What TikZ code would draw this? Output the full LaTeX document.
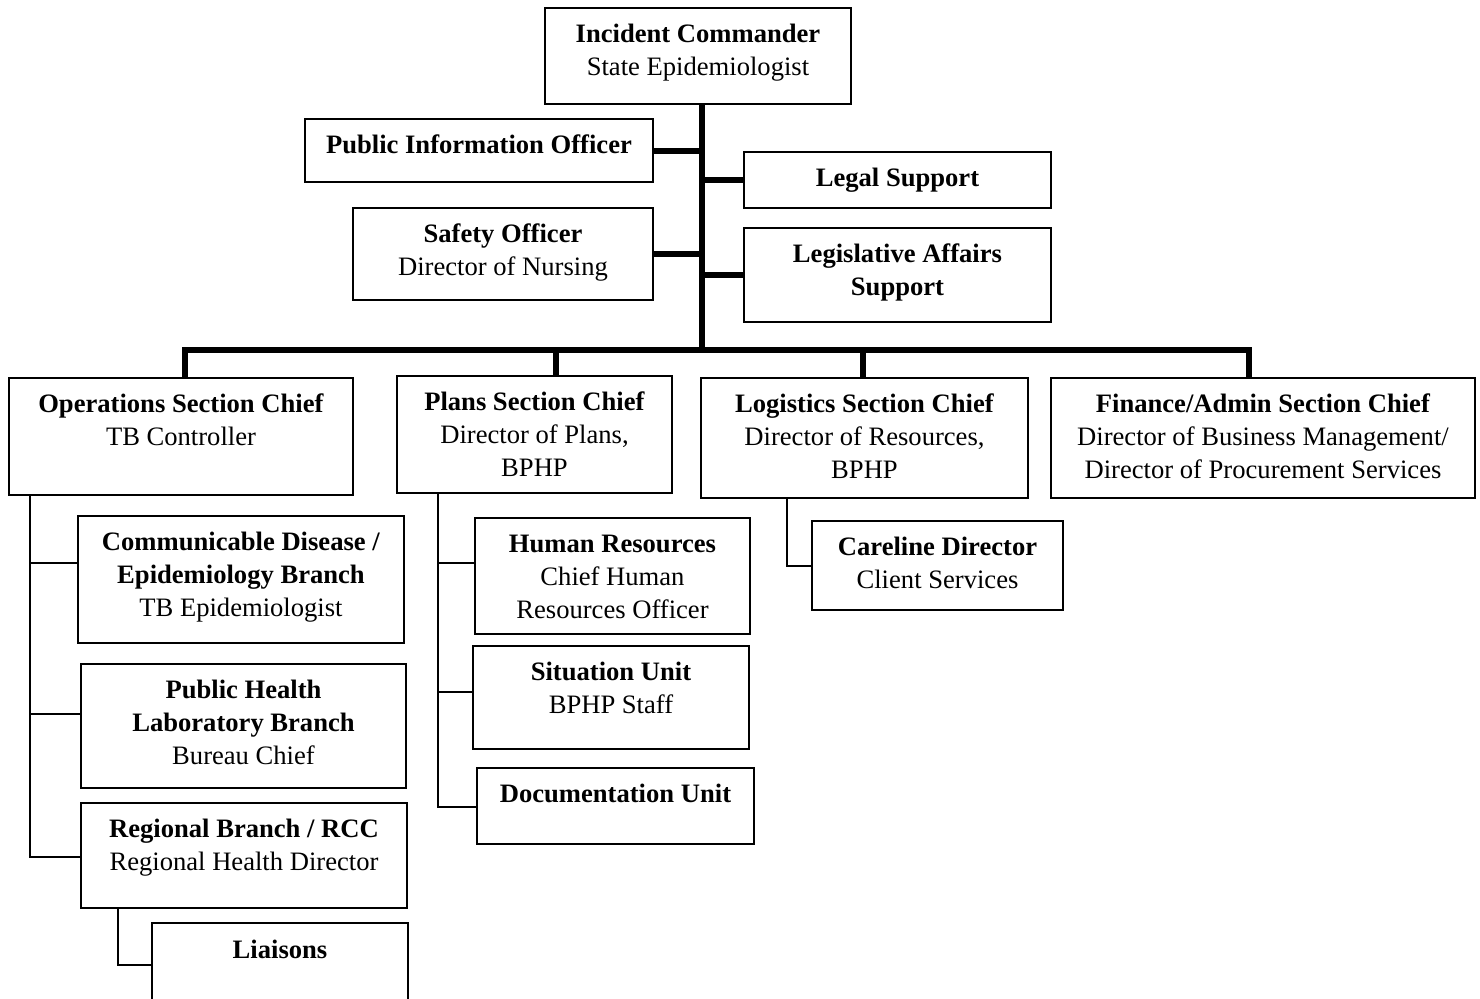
\documentclass[tikz,border=0pt]{standalone}
\usepackage{fontspec}
\setmainfont{Liberation Serif}
\newcommand{\cell}[3]{\parbox[t][#1][t]{#2}{\centering\rule{0pt}{17.3pt}#3}}
\begin{document}
\begin{tikzpicture}[x=0.5pt,y=-0.5pt,
    box/.style={draw,line width=1pt,inner sep=0pt,anchor=north west,font=\fontsize{13.3}{16.5}\selectfont},
    trunk/.style={line width=3pt},
    branch/.style={line width=0.7pt}]
    \useasboundingbox (0,0) rectangle (1480,998);
    % command staff
    \node[box] (ic) at (544,7) {\cell{48pt}{153pt}{\textbf{Incident Commander}\\State Epidemiologist}};
    \node[box] (pio) at (304,118) {\cell{31.5pt}{174pt}{\textbf{Public Information Officer}}};
    \node[box] (legal) at (743,151) {\cell{28pt}{153.5pt}{\textbf{Legal Support}}};
    \node[box] (safety) at (352,207) {\cell{46pt}{150pt}{\textbf{Safety Officer}\\Director of Nursing}};
    \node[box] (legis) at (743,227) {\cell{47pt}{153.5pt}{\textbf{Legislative Affairs}\\\textbf{Support}}};
    \coordinate (hub) at (702,350);
    \draw[trunk] (hub |- ic.south) -- (hub);
    \draw[trunk] (pio.east) -- (pio.east -| hub);
    \draw[trunk] (safety.east) -- (safety.east -| hub);
    \draw[trunk] (legal.west) -- (legal.west -| hub);
    \draw[trunk] (legis.west) -- (legis.west -| hub);
    % general staff
    \node[box] (ops) at (8,377) {\cell{58.5pt}{172pt}{\textbf{Operations Section Chief}\\TB Controller}};
    \node[box] (plans) at (396,375) {\cell{58.5pt}{137.5pt}{\textbf{Plans Section Chief}\\Director of Plans,\\BPHP}};
    \node[box] (logis) at (700,377) {\cell{60pt}{163.5pt}{\textbf{Logistics Section Chief}\\Director of Resources,\\BPHP}};
    \node[box] (fin) at (1050,377) {\cell{60pt}{212pt}{\textbf{Finance/Admin Section Chief}\\Director of Business Management/\\Director of Procurement Services}};
    \draw[trunk] (185,350 |- ops.north) -- (185,350) -- (1249,350) -- (1249,350 |- fin.north);
    \draw[trunk] (556,350) -- (556,350 |- plans.north);
    \draw[trunk] (863,350) -- (863,350 |- logis.north);
    % operations
    \node[box] (cd) at (77,515) {\cell{63.5pt}{163pt}{\textbf{Communicable Disease /}\\\textbf{Epidemiology Branch}\\TB Epidemiologist}};
    \node[box] (phl) at (80,663) {\cell{62pt}{162.5pt}{\textbf{Public Health}\\\textbf{Laboratory Branch}\\Bureau Chief}};
    \node[box] (reg) at (80,802) {\cell{52.5pt}{163pt}{\textbf{Regional Branch / RCC}\\Regional Health Director}};
    \node[box,draw=none] (liais) at (152,923) {\cell{37.5pt}{127pt}{\textbf{Liaisons}}};
    \draw[line width=1pt] (liais.south west) -- (liais.north west) -- (liais.north east) -- (liais.south east);
    \draw[branch] (30,0 |- ops.south) -- (30,857) -- (30,857 -| reg.west);
    \foreach \n/\y in {cd/563, phl/714}
        \draw[branch] (30,\y) -- (30,\y -| \n.west);
    \draw[branch] (118,0 |- reg.south) -- (118,965) -- (118,965 -| liais.west);
    % plans
    \node[box] (hr) at (474,517) {\cell{58pt}{137.5pt}{\textbf{Human Resources}\\Chief Human\\Resources Officer}};
    \node[box] (sit) at (472,645) {\cell{51.5pt}{138pt}{\textbf{Situation Unit}\\BPHP Staff}};
    \node[box] (doc) at (476,767) {\cell{38pt}{138.5pt}{\textbf{Documentation Unit}}};
    \draw[branch] (438,0 |- plans.south) -- (438,807) -- (438,807 -| doc.west);
    \foreach \n/\y in {hr/563, sit/692}
        \draw[branch] (438,\y) -- (438,\y -| \n.west);
    % logistics
    \node[box] (care) at (811,520) {\cell{44.5pt}{125.5pt}{\textbf{Careline Director}\\Client Services}};
    \draw[branch] (787,0 |- logis.south) -- (787,566) -- (787,566 -| care.west);
\end{tikzpicture}
\end{document}
